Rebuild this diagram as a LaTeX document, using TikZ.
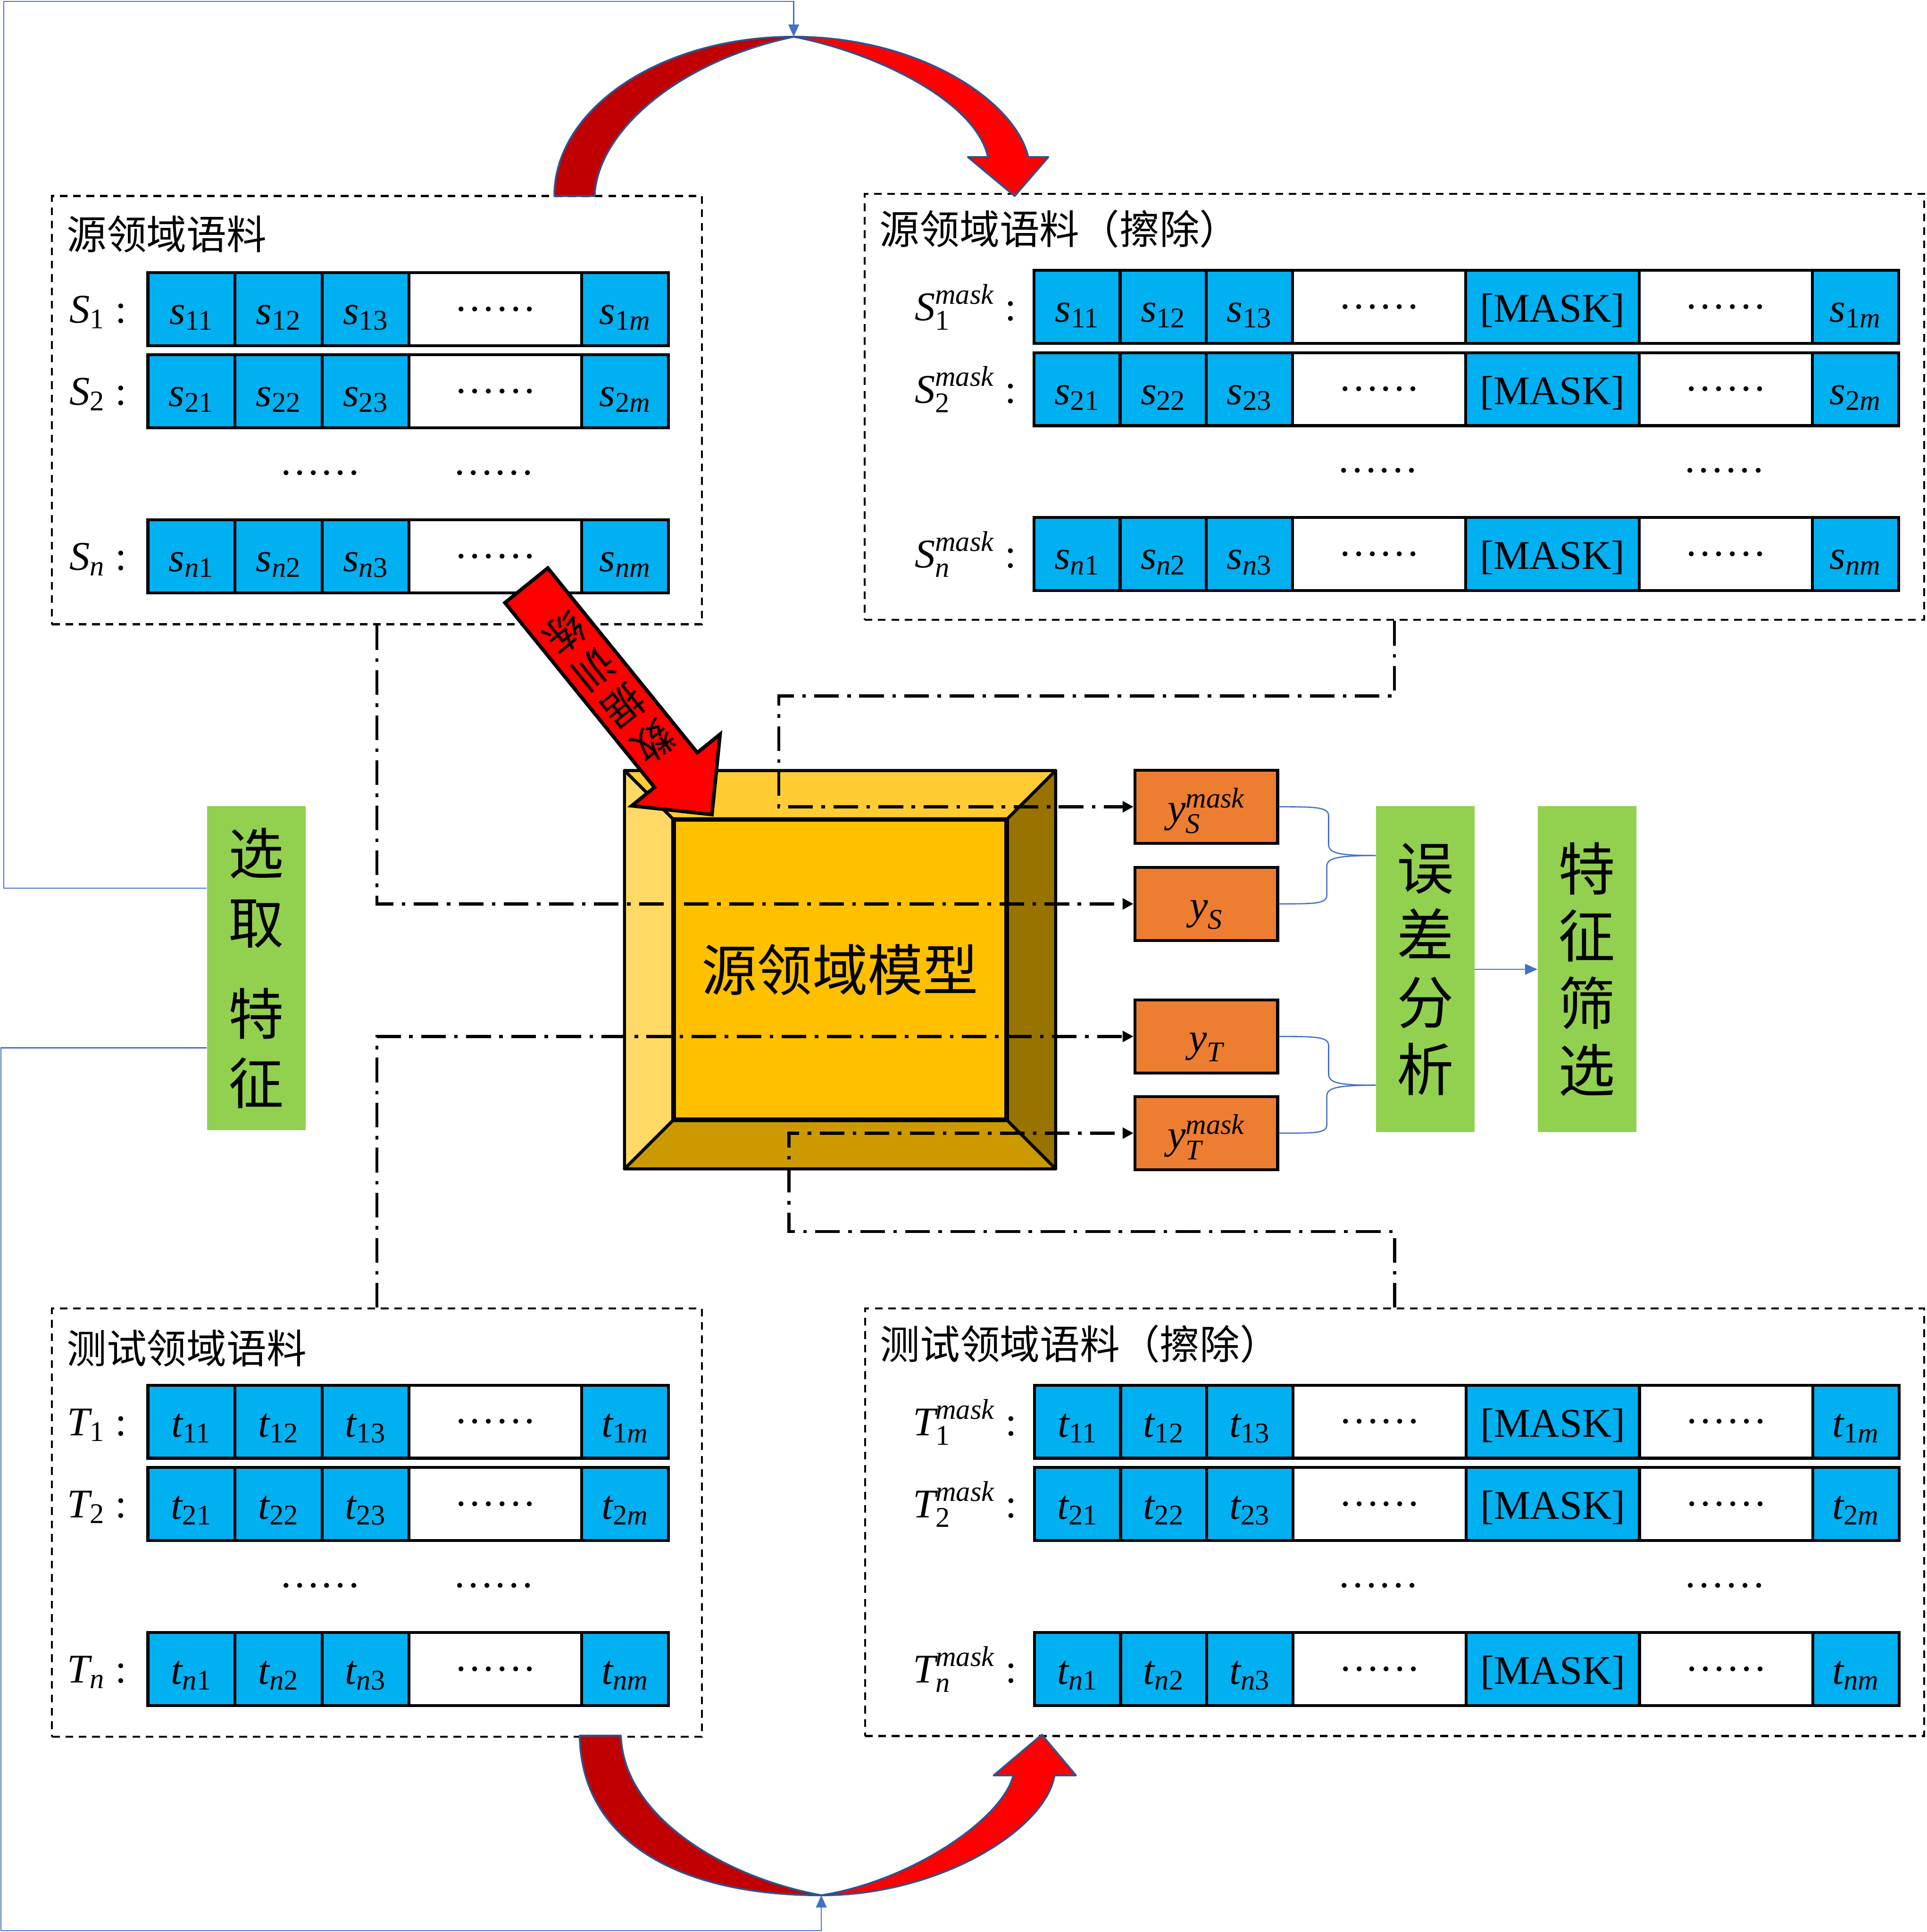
\documentclass[tikz,border=0pt]{standalone}
\usepackage{amsmath}
\usepackage{fontspec}
\setmainfont{Liberation Serif}
\newfontfamily\cjk{Noto Sans CJK SC}
\usepackage{tikz}
\usetikzlibrary{arrows.meta}
\definecolor{tokblue}{HTML}{00B0F0}
\definecolor{outorange}{HTML}{ED7D31}
\definecolor{taggreen}{HTML}{92D050}
\definecolor{linkblue}{HTML}{4472C4}
\definecolor{arcdark}{HTML}{C00000}
\definecolor{arcred}{HTML}{FF0000}
\definecolor{arcline}{HTML}{2F528F}
\definecolor{bevmid}{HTML}{FFC000}
\definecolor{bevtop}{HTML}{FFCC33}
\definecolor{bevleft}{HTML}{FFD966}
\definecolor{bevright}{HTML}{997300}
\definecolor{bevbot}{HTML}{CC9A00}
\newcommand{\tk}[2]{$\textit{#1}_{\text{#2}}$}

\begin{document}
\begin{tikzpicture}[
    font=\fontsize{26.5}{31}\selectfont,
    corpus/.style={draw, line width=1.3pt, dash pattern=on 5pt off 3.7pt, inner sep=0pt},
    title/.style={anchor=west, inner sep=0pt, font=\cjk\fontsize{26}{30}\selectfont},
    cellbase/.style={draw, line width=1.9pt, minimum height=1.67cm, inner sep=0pt, anchor=north west},
    tok/.style={cellbase, fill=tokblue, text height=0.9cm, text depth=0.21cm},
    gap/.style={cellbase, fill=white},
    dots/.style={inner sep=0pt},
    rowlab/.style={anchor=base east, inner sep=0pt},
    outbox/.style={draw, line width=2pt, fill=outorange, minimum width=3.26cm, minimum height=1.67cm,
        inner sep=0pt, text height=0.9cm, text depth=0.21cm},
    tag/.style={fill=taggreen, minimum width=2.25cm, minimum height=7.45cm, inner sep=0pt, align=center},
    face/.style={draw, line width=2pt, line join=round},
    flow/.style={line width=2pt, dash pattern=on 16pt off 5.5pt on 2.3pt off 5.5pt,
        -{Triangle[length=7pt, width=7pt]}},
    feed/.style={draw=linkblue, line width=0.7pt, -{Triangle[length=8pt, width=7pt]}},
    brace/.style={draw=linkblue, line width=0.8pt},
    arcband/.style={draw=arcline, line width=1.2pt, line join=round},
]
\useasboundingbox (0,0) rectangle (44.04,-44.16);

% corpus frames
\node[corpus, minimum width=14.85cm, minimum height=9.79cm] (src)  at (8.615,-9.375) {};
\node[corpus, minimum width=24.22cm, minimum height=9.74cm] (srcm) at (31.87,-9.30) {};
\node[corpus, minimum width=14.85cm, minimum height=9.79cm] (tst)  at (8.615,-34.805) {};
\node[corpus, minimum width=24.21cm, minimum height=9.77cm] (tstm) at (31.875,-34.795) {};

\node[title] (srcT)  at ([xshift=0.35cm, yshift=-0.90cm]src.north west)  {源领域语料};
\node[title] (srcmT) at ([xshift=0.36cm, yshift=-0.82cm]srcm.north west) {源领域语料（擦除）};
\node[title] (tstT)  at ([xshift=0.35cm, yshift=-0.93cm]tst.north west)  {测试领域语料};
\node[title] (tstmT) at ([xshift=0.36cm, yshift=-0.83cm]tstm.north west) {测试领域语料（擦除）};

% rows of the plain corpora
\foreach \frm/\up/\lo in {src/S/s, tst/T/t}{
  \foreach \row/\rw/\dy/\by in {1/1/1.74/2.92, 2/2/3.62/4.80, 3/\textit{n}/7.39/8.57}{
    \node[rowlab] (\frm L\row) at ([xshift=1.74cm, yshift=-\by cm]\frm.north west)
        {$\textit{\up}_{\text{\rw}}\;\text{:}$};
    \foreach \col/\dx/\w/\kind/\txt in {1/2.18/1.99/tok/{\tk{\lo}{\rw1}}, 2/4.17/1.99/tok/{\tk{\lo}{\rw2}},
        3/6.16/1.99/tok/{\tk{\lo}{\rw3}}, 4/8.15/3.94/gap/{……}, 5/12.09/1.99/tok/{\tk{\lo}{\rw\textit{m}}}}
      \node[\kind, minimum width=\w cm] (\frm\row\col) at ([xshift=\dx cm, yshift=-\dy cm]\frm.north west) {\txt};
  }
  \node[dots] (\frm D1) at ([xshift=6.15cm, yshift=-6.35cm]\frm.north west) {……};
  \node[dots] (\frm D2) at ([xshift=10.12cm, yshift=-6.35cm]\frm.north west) {……};
}

% rows of the masked corpora
\foreach \frm/\up/\lo in {srcm/S/s, tstm/T/t}{
  \foreach \row/\rw/\dy/\by in {1/1/1.74/2.92, 2/2/3.62/4.80, 3/\textit{n}/7.39/8.57}{
    \node[rowlab] (\frm L\row) at ([xshift=3.50cm, yshift=-\by cm]\frm.north west)
        {$\textit{\up}_{\text{\rw}}^{\textit{mask}}\;\text{:}$};
    \foreach \col/\dx/\w/\kind/\txt in {1/3.86/1.97/tok/{\tk{\lo}{\rw1}}, 2/5.83/1.97/tok/{\tk{\lo}{\rw2}},
        3/7.80/1.97/tok/{\tk{\lo}{\rw3}}, 4/9.77/3.96/gap/{……}, 5/13.73/3.96/tok/{[MASK]},
        6/17.69/3.96/gap/{……}, 7/21.65/1.97/tok/{\tk{\lo}{\rw\textit{m}}}}
      \node[\kind, minimum width=\w cm] (\frm\row\col) at ([xshift=\dx cm, yshift=-\dy cm]\frm.north west) {\txt};
  }
  \node[dots] (\frm D1) at ([xshift=11.75cm, yshift=-6.35cm]\frm.north west) {……};
  \node[dots] (\frm D2) at ([xshift=19.67cm, yshift=-6.35cm]\frm.north west) {……};
}

% source domain model (bevelled block)
\node[minimum width=9.84cm, minimum height=9.09cm] (model) at (19.20,-22.165) {};
\node[draw, line width=2pt, fill=bevmid, minimum width=7.58cm, minimum height=6.83cm,
    font=\cjk\fontsize{36}{40}\selectfont] (core) at (19.20,-22.165) {源领域模型};
\draw[face, fill=bevtop] (model.north west) -- (model.north east) -- (core.north east) -- (core.north west) -- cycle;
\draw[face, fill=bevleft] (model.north west) -- (core.north west) -- (core.south west) -- (model.south west) -- cycle;
\draw[face, fill=bevright] (model.north east) -- (model.south east) -- (core.south east) -- (core.north east) -- cycle;
\draw[face, fill=bevbot] (model.south west) -- (core.south west) -- (core.south east) -- (model.south east) -- cycle;

% outputs
\node[outbox] (ysm) at (27.57,-18.44) {$\textit{y}_{\textit{S}}^{\textit{mask}}$};
\node[outbox] (ys)  at (27.57,-20.66) {$\textit{y}_{\textit{S}}$};
\node[outbox] (yt)  at (27.57,-23.69) {$\textit{y}_{\textit{T}}$};
\node[outbox] (ytm) at (27.57,-25.90) {$\textit{y}_{\textit{T}}^{\textit{mask}}$};

\node[tag, minimum width=2.26cm, minimum height=7.40cm, font=\cjk\fontsize{36}{45}\selectfont]
    (sel) at (5.86,-22.13) {选\\取\\[0.5cm]特\\征};
\node[tag, font=\cjk\fontsize{37}{43.7}\selectfont] (err)  at (32.575,-22.155) {误\\差\\分\\析};
\node[tag, font=\cjk\fontsize{37}{43.7}\selectfont] (filt) at (36.27,-22.155)  {特\\征\\筛\\选};

% training arrow
\begin{scope}[shift={(12.03,-13.38)}, rotate=-51]
  \draw[line width=2.3pt, fill=arcred] (0,0.63) -- (5.43,0.63) -- (5.43,1.30) -- (6.74,0)
      -- (5.43,-1.30) -- (5.43,-0.63) -- (0,-0.63) -- cycle;
  \node[rotate=-141, align=center, inner sep=0pt, font=\cjk\fontsize{26}{30.5}\selectfont]
      (train) at (3.0,0) {数\\据\\训\\练};
\end{scope}

% erase arrows
\coordinate (toppeak) at (18.14,-0.84);
\coordinate (botpeak) at (18.77,-43.32);
\draw[arcband, fill=arcdark] (12.67,-4.48) .. controls (12.67,-2.47) and (15.12,-0.84) .. (toppeak)
    .. controls (15.50,-1.40) and (13.65,-3.00) .. (13.59,-4.48) -- cycle;
\draw[arcband, fill=arcred] (toppeak) .. controls (21.00,-0.84) and (23.20,-2.30) .. (23.50,-3.59)
    -- (23.96,-3.59) -- (23.19,-4.48) -- (22.12,-3.59) -- (22.58,-3.59)
    .. controls (22.30,-2.30) and (20.00,-1.20) .. (toppeak) -- cycle;
\draw[arcband, fill=arcdark] (13.25,-39.67) .. controls (13.28,-42.00) and (15.40,-43.32) .. (botpeak)
    .. controls (16.50,-42.90) and (14.25,-41.50) .. (14.19,-39.67) -- cycle;
\draw[arcband, fill=arcred] (botpeak) .. controls (21.50,-43.32) and (23.90,-41.80) .. (24.10,-40.58)
    -- (24.59,-40.58) -- (23.81,-39.65) -- (22.71,-40.58) -- (23.16,-40.58)
    .. controls (22.90,-41.60) and (20.80,-43.00) .. (botpeak) -- cycle;

% model inputs and outputs
\coordinate (turnA) at (17.80,-15.91);
\coordinate (turnB) at (18.03,-28.15);
\draw[flow] (srcm.south) |- (turnA) |- (ysm.west);
\draw[flow] (src.south) |- (ys.west);
\draw[flow] (tst.north) |- (yt.west);
\draw[flow] (tstm.north) |- (turnB) |- (ytm.west);

% error analysis
\coordinate (tipS) at ([yshift=2.6cm]err.west);
\coordinate (tipT) at ([yshift=-2.65cm]err.west);
\draw[brace] (ysm.east) .. controls +(0.85,0) and +(0,0.2) .. ++(1.13,-0.21) -- ++(0,-0.65)
    .. controls +(0,-0.2) and +(-0.85,0) .. (tipS);
\draw[brace] (tipS) .. controls +(-0.85,0) and +(0,0.2) .. ++(-1.12,-0.25) -- ++(0,-0.65)
    .. controls +(0,-0.2) and +(0.85,0) .. (ys.east);
\draw[brace] (yt.east) .. controls +(0.85,0) and +(0,0.2) .. ++(1.13,-0.21) -- ++(0,-0.65)
    .. controls +(0,-0.2) and +(-0.85,0) .. (tipT);
\draw[brace] (tipT) .. controls +(-0.85,0) and +(0,0.2) .. ++(-1.12,-0.25) -- ++(0,-0.65)
    .. controls +(0,-0.2) and +(0.85,0) .. (ytm.east);
\draw[feed] (err.east) -- (filt.west);

% feature selection feeds back
\draw[feed] ([yshift=1.83cm]sel.west) -| (0.09,-0.03) -| (toppeak);
\draw[feed] ([yshift=-1.82cm]sel.west) -| (0.02,-44.13) -| (botpeak);

\end{tikzpicture}
\end{document}
